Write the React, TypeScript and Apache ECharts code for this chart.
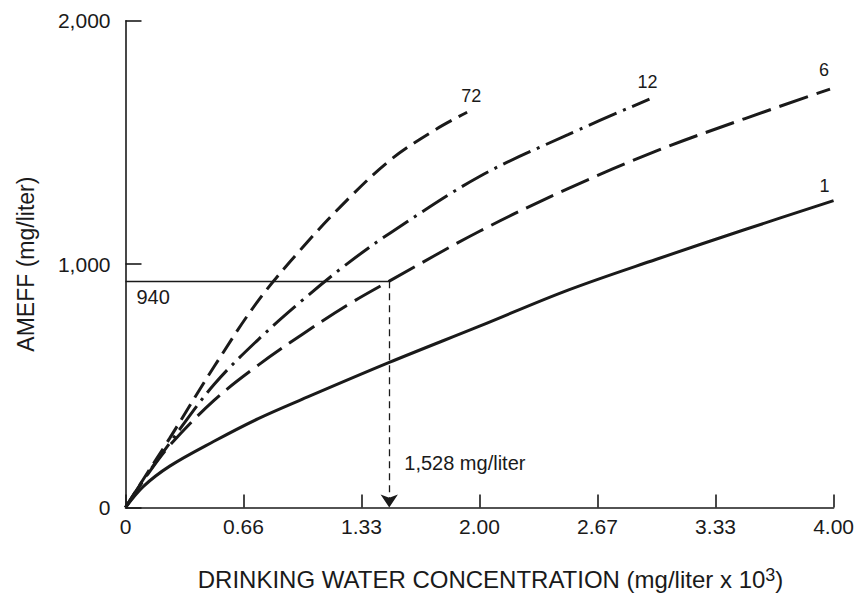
import React, { useEffect, useRef } from "react";
import * as echarts from "echarts";

// x tick positions (mg/liter x 10^3) and their printed labels
const tickValues = [0, 2 / 3, 4 / 3, 2, 8 / 3, 10 / 3, 4];
const tickLabels = ["0", "0.66", "1.33", "2.00", "2.67", "3.33", "4.00"];

// curve "1" (solid)
const x1 = [0, 0.1, 0.25, 0.5, 0.75, 1.0, 1.49, 2.0, 2.5, 3.0, 3.5, 4.0];
const y1 = [0, 86, 170, 272, 365, 445, 596, 745, 893, 1020, 1142, 1261];
// curve "6" (long dash)
const x6 = [0, 0.1, 0.25, 0.5, 0.75, 1.0, 1.25, 1.49, 2.0, 2.5, 3.0, 3.5, 3.98];
const y6 = [0, 110, 255, 440, 585, 712, 830, 930, 1135, 1310, 1465, 1598, 1719];
// curve "12" (dash-dot)
const x12 = [0, 0.1, 0.25, 0.5, 0.75, 1.0, 1.25, 1.5, 2.0, 2.5, 2.96];
const y12 = [0, 112, 265, 505, 690, 852, 1000, 1130, 1360, 1532, 1678];
// curve "72" (short dash)
const x72 = [0, 0.1, 0.25, 0.5, 0.75, 1.0, 1.25, 1.5, 1.75, 1.93];
const y72 = [0, 115, 285, 578, 850, 1068, 1262, 1430, 1552, 1624];

// reading marker
const markerX = 1.49;
const markerY = 930;
const markerYLabel = "940";
const markerXLabel = "1,528 mg/liter";

const FONT = "'Liberation Sans', Arial, Helvetica, sans-serif";
const INK = "#1a1a1a";

const zip = (xs: number[], ys: number[]) => xs.map((x, i) => [x, ys[i]]);

export default function App() {
  const ref = useRef<HTMLDivElement>(null);
  useEffect(() => {
    if (!ref.current) return;
    const chart = echarts.init(ref.current, undefined, { renderer: "svg" });
    const curve = (
      name: string,
      xs: number[],
      ys: number[],
      type: any,
      offset: number[]
    ) => ({
      type: "line",
      name,
      data: zip(xs, ys),
      showSymbol: false,
      smooth: 0.35,
      silent: true,
      lineStyle: { color: INK, width: 3, type, cap: "butt" },
      endLabel: {
        show: true,
        formatter: name,
        fontFamily: FONT,
        fontSize: 18,
        color: INK,
        align: "center",
        verticalAlign: "middle",
        distance: 0,
        offset,
      },
    });
    const solid = curve("1", x1, y1, "solid", [-9, -15]) as any;
    solid.markLine = {
      silent: true,
      symbol: ["none", "none"],
      label: { show: false },
      data: [
        [
          { coord: [0, markerY], lineStyle: { type: "solid", width: 1.3, color: INK } },
          { coord: [markerX, markerY] },
        ],
        [
          {
            coord: [markerX, markerY],
            symbol: "none",
            lineStyle: { type: [7, 5], width: 1.3, color: INK },
          },
          { coord: [markerX, 0], symbol: "arrow", symbolSize: 13 },
        ],
      ],
    };
    solid.markPoint = {
      silent: true,
      symbol: "circle",
      symbolSize: 0,
      data: [
        {
          coord: [0, markerY],
          label: {
            show: true,
            formatter: markerYLabel,
            position: [11, 6],
            fontFamily: FONT,
            fontSize: 20,
            color: INK,
          },
        },
        {
          coord: [markerX, 0],
          label: {
            show: true,
            formatter: markerXLabel,
            position: [15, -55],
            fontFamily: FONT,
            fontSize: 20,
            color: INK,
          },
        },
      ],
    };
    chart.setOption({
      animation: false,
      backgroundColor: "#ffffff",
      grid: { left: 125.5, right: 21.5, top: 20.7, bottom: 89.5, containLabel: false },
      xAxis: {
        type: "value",
        min: 0,
        max: 4,
        name: "DRINKING WATER CONCENTRATION (mg/liter x 10{sup|3})",
        nameLocation: "middle",
        nameGap: 58,
        nameTextStyle: {
          fontFamily: FONT,
          fontSize: 24,
          color: INK,
          padding: [0, 0, 0, 22],
          rich: {
            sup: { fontFamily: FONT, fontSize: 18, color: INK, verticalAlign: "top", padding: [0, 0, 10, 0] },
          },
        },
        axisLine: { show: true, lineStyle: { color: INK, width: 1.6 } },
        axisTick: {
          show: true,
          inside: true,
          length: 13,
          customValues: tickValues,
          lineStyle: { color: INK, width: 1.6 },
        },
        axisLabel: {
          customValues: tickValues,
          margin: 8,
          fontFamily: FONT,
          fontSize: 21,
          color: INK,
          formatter: (v: number) => {
            const i = tickValues.findIndex((t) => Math.abs(t - v) < 1e-6);
            return i >= 0 ? tickLabels[i] : "";
          },
        },
        splitLine: { show: false },
      },
      yAxis: {
        type: "value",
        min: 0,
        max: 2000,
        interval: 1000,
        name: "AMEFF (mg/liter)",
        nameLocation: "middle",
        nameRotate: 90,
        nameGap: 88,
        nameTextStyle: { fontFamily: FONT, fontSize: 23, color: INK },
        axisLine: { show: true, lineStyle: { color: INK, width: 1.6 } },
        axisTick: { show: true, inside: true, length: 16, lineStyle: { color: INK, width: 1.6 } },
        axisLabel: {
          margin: 15,
          fontFamily: FONT,
          fontSize: 21,
          color: INK,
          formatter: (v: number) => v.toLocaleString("en-US"),
        },
        splitLine: { show: false },
      },
      series: [
        solid,
        curve("6", x6, y6, [30, 9], [-6, -19]),
        curve("12", x12, y12, [30, 7, 3, 7], [-2, -17]),
        curve("72", x72, y72, [18, 8], [4, -16]),
      ],
    });
    return () => chart.dispose();
  }, []);
  return (
    <div
      ref={ref}
      style={{ position: "absolute", left: 0, top: 0, width: 857, height: 597, background: "#fff" }}
    />
  );
}
